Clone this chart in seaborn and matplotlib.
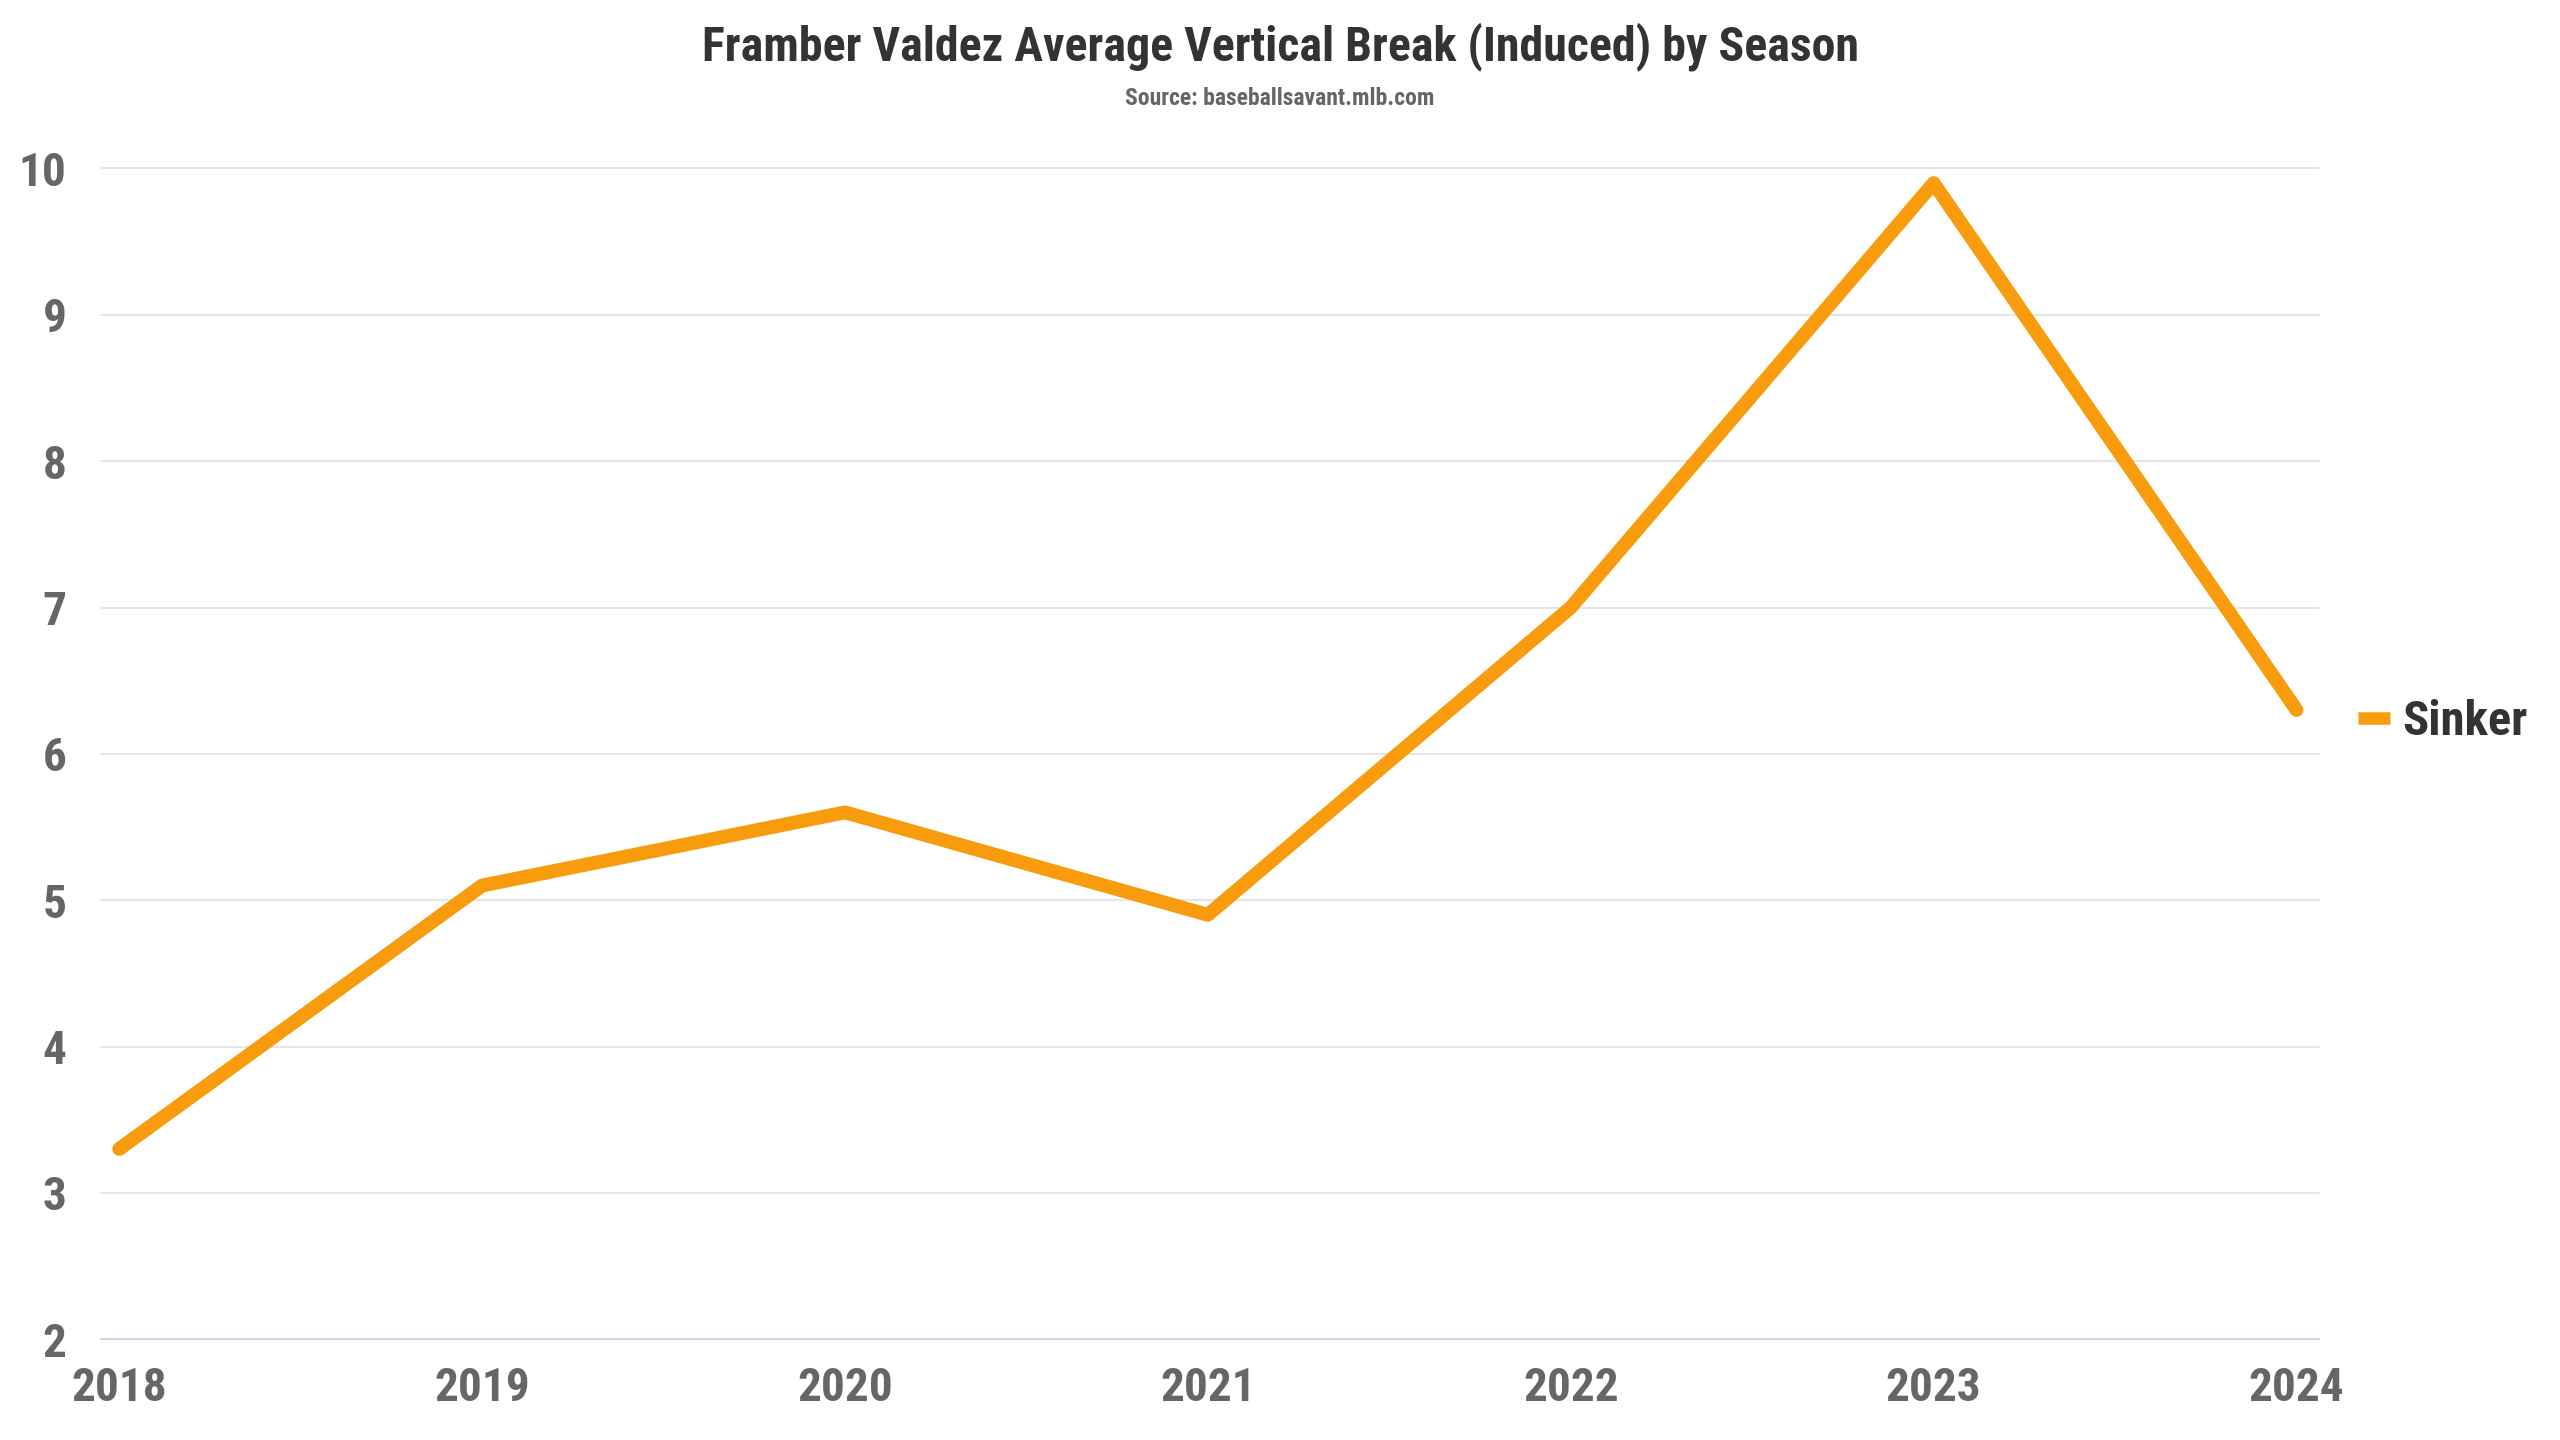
import matplotlib
matplotlib.use('Agg')
import matplotlib.pyplot as plt
from matplotlib import font_manager
import seaborn as sns
import pandas as pd

# data
seasons = [2018, 2019, 2020, 2021, 2022, 2023, 2024]
sinker_ivb = [3.3, 5.1, 5.6, 4.9, 7.0, 9.9, 6.3]
y_ticks = [2, 3, 4, 5, 6, 7, 8, 9, 10]
series_name = 'Sinker'
title = 'Framber Valdez Average Vertical Break (Induced) by Season'
subtitle = 'Source: baseballsavant.mlb.com'

df = pd.DataFrame({'season': seasons, 'ivb': sinker_ivb})

sns.set_style('white')
# condensed Roboto if it happens to be there, else plain Roboto
names = {f.name for f in font_manager.fontManager.ttflist}
family = 'Roboto Condensed' if 'Roboto Condensed' in names else 'Roboto'
plt.rcParams['font.family'] = [family, 'DejaVu Sans']

fig = plt.figure(figsize=(25.6, 14.4), dpi=100)
ax = fig.add_axes([0.0395, 0.070, 0.8665, 0.813])

sns.lineplot(data=df, x='season', y='ivb', color='#F89C0E', linewidth=10,
             label=series_name, ax=ax,
             solid_capstyle='round', solid_joinstyle='round')

ax.set_xlim(2017.95, 2024.063)
ax.set_ylim(2, 10)
ax.set_xticks(seasons)
ax.set_yticks(y_ticks)
ax.set_xlabel('')
ax.set_ylabel('')

ax.yaxis.grid(True, color='#e6e6e6', linewidth=1.5)
ax.xaxis.grid(False)
ax.set_axisbelow(True)
for gl in ax.yaxis.get_gridlines():
    gl.set_clip_on(False)   # keep the top (10) gridline full width
for side in ['top', 'right', 'left']:
    ax.spines[side].set_visible(False)
ax.spines['bottom'].set_color('#ccd6eb')
ax.spines['bottom'].set_linewidth(1.5)

ax.tick_params(axis='x', length=13, width=1.5, color='#ccd6eb', pad=6,
               labelsize=34, labelcolor='#666666')
ax.tick_params(axis='y', length=0, pad=25, labelsize=34, labelcolor='#666666')
for lbl in ax.get_xticklabels() + ax.get_yticklabels():
    lbl.set_fontweight('bold')

# legend to the right of the plot
leg = ax.legend(loc='center left', bbox_to_anchor=(1.0176, 0.527), frameon=False,
                fontsize=35, handlelength=0.66, handletextpad=0.25,
                borderpad=0, borderaxespad=0)
for t in leg.get_texts():
    t.set_fontweight('bold')
    t.set_color('#333333')
for ln in leg.get_lines():
    ln.set_solid_capstyle('butt')
    ln.set_linewidth(9)

fig.text(0.5, 1 - 60 / 1440, title, ha='center', va='baseline',
         fontsize=34.5, fontweight='bold', color='#333333')
fig.text(0.5, 1 - 105 / 1440, subtitle, ha='center', va='baseline',
         fontsize=17, fontweight='bold', color='#666666')

fig.savefig('out.png', dpi=100)
